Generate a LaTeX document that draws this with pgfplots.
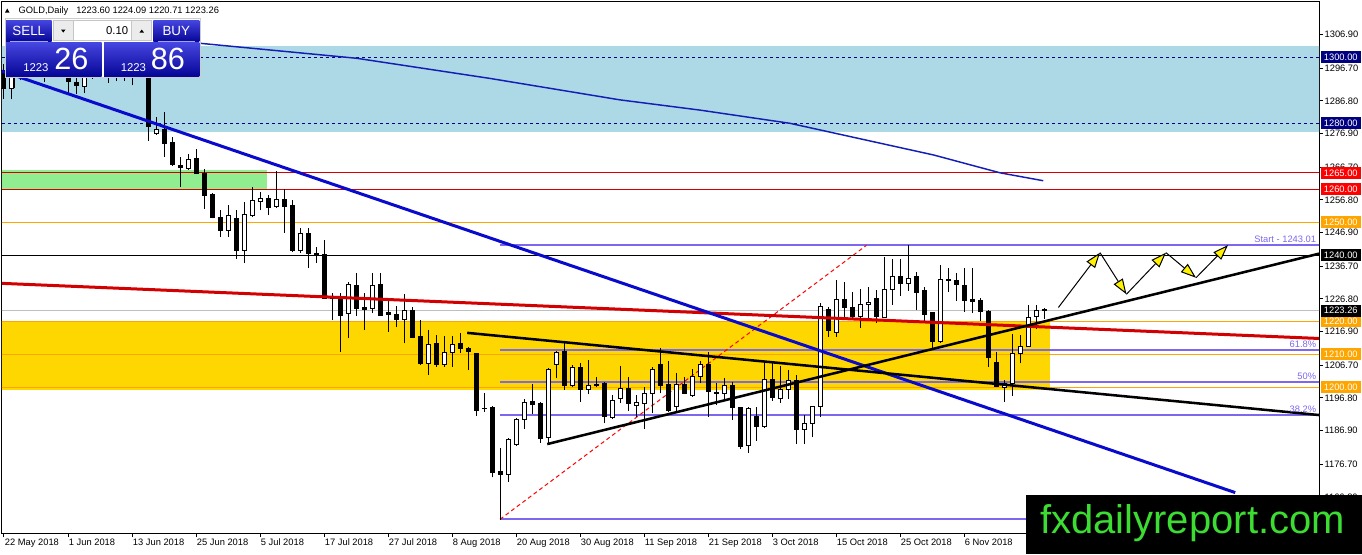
\documentclass[border=0pt]{standalone}
\usepackage{fontspec}
\setmainfont{Liberation Sans}
\usepackage{pgfplots}
\pgfplotsset{compat=1.18}
\usepackage{pgfplotstable}
\usetikzlibrary{arrows.meta}

\definecolor{zoneblue}{RGB}{173,216,230}
\definecolor{zonegreen}{RGB}{144,238,144}
\definecolor{zonegold}{RGB}{255,215,0}
\definecolor{fibline}{RGB}{123,104,238}
\definecolor{trendblue}{RGB}{10,10,205}
\definecolor{maline}{RGB}{20,30,180}
\definecolor{lvlred}{RGB}{210,0,0}
\definecolor{lvlorange}{RGB}{255,165,0}
\definecolor{lvlnavy}{RGB}{0,0,128}
\definecolor{btnhi}{RGB}{70,70,225}
\definecolor{btnlo}{RGB}{5,5,150}
\definecolor{wmgreen}{RGB}{60,220,50}

% bullish candles: bar index, open, high, low, close
\pgfplotstableread{
i o h l c
1 1290.6 1295 1287.3 1294
2 1294 1299 1293 1297.5
3 1297.5 1305 1295 1303
6 1297 1300 1294 1298.5
10 1291.3 1296 1289.3 1294
11 1294 1299 1293.5 1297.5
12 1297.5 1300 1295 1298.5
13 1298.5 1301 1292.3 1299
15 1296 1300 1292.8 1298.5
16 1298.5 1303 1291.6 1299.5
17 1299.5 1309 1294 1301
19 1277.0 1281.8 1276.5 1278.0
23 1266.2 1270.7 1265.8 1268.9
28 1247.5 1255.2 1245.6 1252.2
30 1241.4 1256.2 1237.6 1252.4
31 1252.0 1260.6 1251.5 1256.5
32 1256.2 1259.3 1253.7 1257.3
34 1254.7 1265.6 1254.2 1257.0
37 1241.4 1248.2 1240.8 1246.7
43 1222.4 1232.0 1215.0 1231.3
46 1223.9 1234.5 1222.4 1231.0
50 1220.7 1228.3 1213.3 1223.4
53 1207.3 1217.4 1203.7 1213.0
55 1207.0 1215.5 1206.2 1210.6
56 1210.6 1215.5 1206.2 1213.0
60 1193.6 1198.2 1192.6 1193.7
63 1173.6 1184.5 1171.4 1184.2
64 1182.8 1190.6 1182.3 1190.1
65 1190.1 1196.5 1187.3 1195.5
68 1184.8 1205.8 1182.8 1205.4
69 1207.0 1211.1 1202.7 1210.6
71 1200.7 1206.8 1200.2 1206.1
73 1199.4 1208.3 1197.9 1200.5
74 1200.4 1203.2 1200.2 1201.0
76 1190.8 1197.7 1190.3 1196.0
77 1196.5 1206.5 1195.1 1199.7
79 1194.5 1197.7 1191.1 1195.3
80 1195.1 1200.2 1187.3 1198.2
81 1198.2 1206.3 1192.1 1205.4
84 1194.3 1204.2 1192.6 1200.9
86 1197.5 1205.7 1197.2 1203.2
87 1203.4 1208.0 1201.2 1206.8
90 1198.2 1202.7 1196.2 1200.4
93 1182.5 1194.0 1180.2 1193.6
95 1188.1 1207.3 1187.6 1202.4
97 1196.7 1206.5 1195.3 1199.2
98 1199.2 1205.2 1196.4 1202.0
100 1187.3 1191.6 1182.8 1188.9
101 1189.1 1194.1 1184.8 1194.1
102 1194.1 1225.6 1190.9 1224.4
104 1216.6 1232.5 1215.3 1226.5
107 1221.6 1229.7 1218.1 1225.2
108 1225.2 1230.3 1220.4 1225.8
110 1221.2 1239.4 1220.9 1229.7
111 1229.7 1238.8 1225.0 1233.7
113 1231.5 1243.1 1229.3 1233.0
117 1213.8 1237.1 1213.5 1232.7
125 1200.0 1202.2 1195.7 1201.2
126 1201.2 1216.2 1197.4 1210.1
127 1210.3 1215.8 1207.3 1212.5
128 1212.5 1224.9 1212.3 1221.2
129 1221.6 1224.9 1217.6 1223.2
}\bull

% bearish candles
\pgfplotstableread{
i o h l c
0 1296 1298 1287.5 1290.6
4 1303 1306 1298 1301
5 1301 1302 1292.5 1297
7 1298.5 1301 1295 1297.5
8 1297.5 1298.5 1289 1292.6
9 1292.3 1294 1288.9 1291.6
14 1299 1302 1292.8 1296
18 1301 1303 1274.7 1279.0
20 1278.0 1283.5 1269.9 1273.9
21 1274.1 1275.8 1267.1 1267.4
22 1267.2 1269.7 1260.8 1266.5
24 1269.4 1272.1 1264.6 1264.8
25 1264.8 1266.1 1254.0 1258.1
26 1258.5 1258.8 1251.2 1251.4
27 1251.5 1253.7 1245.5 1247.5
29 1251.2 1253.7 1238.9 1241.4
33 1257.3 1258.3 1252.2 1254.5
35 1257.0 1260.0 1246.8 1254.9
36 1255.2 1256.8 1240.9 1241.4
38 1246.7 1248.2 1236.1 1240.4
39 1240.6 1242.6 1237.8 1240.0
40 1240.1 1244.6 1226.7 1227.0
41 1227.3 1228.5 1220.4 1227.0
42 1226.7 1228.5 1210.8 1221.9
44 1231.0 1234.5 1221.6 1223.9
45 1224.1 1228.5 1217.4 1223.7
47 1231.3 1234.5 1221.6 1221.9
48 1222.6 1226.5 1216.8 1222.2
49 1222.1 1224.6 1218.4 1220.7
51 1223.4 1224.4 1214.8 1215.2
52 1215.5 1220.4 1206.8 1207.1
54 1213.3 1215.8 1206.2 1206.8
57 1213.3 1216.5 1210.5 1211.8
58 1211.8 1212.3 1205.2 1210.8
59 1210.1 1210.5 1191.3 1192.9
61 1193.8 1194.3 1172.7 1174.1
62 1174.6 1181.5 1159.8 1173.6
66 1195.8 1200.9 1191.9 1194.8
67 1195.1 1195.6 1183.2 1184.5
70 1210.8 1213.8 1199.2 1200.7
72 1206.1 1207.3 1195.7 1199.4
75 1201.2 1201.7 1189.1 1191.1
78 1199.5 1203.0 1192.8 1195.1
82 1206.8 1211.8 1198.2 1200.7
83 1200.9 1208.0 1192.6 1192.9
85 1201.0 1203.0 1197.9 1198.0
88 1206.8 1210.8 1191.1 1198.7
89 1198.5 1201.2 1194.6 1198.2
91 1200.7 1201.7 1190.1 1193.9
92 1193.9 1194.1 1181.2 1182.0
94 1191.3 1194.1 1183.8 1188.1
96 1202.4 1207.3 1195.9 1197.0
99 1202.2 1203.7 1182.8 1187.3
103 1223.7 1224.4 1215.3 1217.2
105 1226.5 1232.0 1221.2 1224.2
106 1224.2 1229.0 1220.4 1221.6
109 1226.9 1229.5 1219.6 1221.6
112 1233.7 1238.8 1227.7 1231.5
114 1233.7 1235.0 1223.4 1228.7
115 1229.3 1230.3 1220.2 1222.2
116 1222.6 1222.9 1211.8 1213.8
118 1232.7 1236.1 1229.0 1232.3
119 1232.3 1234.7 1226.2 1231.3
120 1231.0 1236.1 1222.9 1226.3
121 1226.5 1236.1 1222.4 1226.0
122 1226.3 1227.0 1220.2 1222.9
123 1222.9 1223.4 1206.3 1209.1
124 1207.5 1210.8 1200.0 1200.2
130 1223.60 1224.09 1220.71 1223.26
}\bear

\begin{document}
\begin{tikzpicture}
\begin{axis}[
  at={(1.5pt,-399.75pt)}, anchor=south west,
  scale only axis, width=987.75pt, height=399pt,
  xmin=-0.25, xmax=164.375, ymin=1155.85, ymax=1317.06,
  clip mode=individual,
  axis line style={black, line width=0.75pt},
  tick style={black, line width=0.75pt},
  tick align=outside, major tick length=3pt,
  xtick pos=bottom, ytick pos=right, yticklabel pos=right,
  xtick={0,8,...,120},
  xticklabels={22 May 2018, 1 Jun 2018, 13 Jun 2018, 25 Jun 2018, 5 Jul 2018, 17 Jul 2018, 27 Jul 2018, 8 Aug 2018, 20 Aug 2018, 30 Aug 2018, 11 Sep 2018, 21 Sep 2018, 3 Oct 2018, 15 Oct 2018, 25 Oct 2018, 6 Nov 2018},
  ytick={1306.9,1296.7,1286.8,1276.9,1266.7,1256.8,1246.9,1236.7,1226.8,1216.9,1206.7,1196.8,1186.9,1176.7,1166.8},
  yticklabels={1306.90,1296.70,1286.80,1276.90,1266.70,1256.80,1246.90,1236.70,1226.80,1216.90,1206.70,1196.80,1186.90,1176.70,1166.80},
  ticklabel style={font=\fontsize{7}{8}\selectfont, inner sep=1pt},
  xticklabel style={anchor=north west, xshift=-0.5pt},
  yticklabel style={anchor=west},
  candle end/.style={only marks, mark=-, mark size=1.875pt, mark options={black, line width=0.75pt}},
  candle bar/.style={draw=none, mark=none, error bars/.cd, y dir=plus, y explicit, error mark=none,
    error bar style={draw=#1}},
]
% zones
\addplot[draw=none, fill=zoneblue] coordinates {(-1,1277.5) (166,1277.5) (166,1303.4) (-1,1303.4)};
\addplot[draw=none, fill=zonegreen] coordinates {(-1,1260) (32.9,1260) (32.9,1265.8) (-1,1265.8)};
\addplot[draw=none, fill=zonegold] coordinates {(-1,1199.2) (130.8,1199.2) (130.8,1220.1) (-1,1220.1)};

% horizontal levels
\addplot[lvlnavy, line width=0.75pt, dash pattern=on 2.25pt off 2.25pt] coordinates {(-1,1300) (166,1300)};
\addplot[lvlnavy, line width=0.75pt, dash pattern=on 2.25pt off 2.25pt] coordinates {(-1,1280) (166,1280)};
\addplot[lvlred, line width=0.75pt] coordinates {(-1,1265) (166,1265)};
\addplot[lvlred, line width=0.75pt] coordinates {(-1,1260) (166,1260)};
\addplot[lvlorange, line width=0.75pt] coordinates {(-1,1250) (166,1250)};
\addplot[black, line width=0.75pt] coordinates {(-1,1240) (166,1240)};
\addplot[gray!50, line width=0.75pt] coordinates {(-1,1223.26) (166,1223.26)};
\addplot[lvlorange, line width=0.75pt] coordinates {(-1,1220) (166,1220)};
\addplot[lvlorange, line width=0.75pt] coordinates {(-1,1210) (166,1210)};
\addplot[lvlorange, line width=0.75pt] coordinates {(-1,1200) (166,1200)};

% fibonacci levels
\addplot[fibline, line width=1.5pt] coordinates {(62,1243.01) (166,1243.01)};
\addplot[fibline, line width=1.5pt] coordinates {(62,1211.3) (166,1211.3)};
\addplot[fibline, line width=1.5pt] coordinates {(62,1201.5) (166,1201.5)};
\addplot[fibline, line width=1.5pt] coordinates {(62,1191.7) (166,1191.7)};
\addplot[fibline, line width=1.5pt] coordinates {(62,1160) (166,1160)};
\addplot[red, line width=0.75pt, dash pattern=on 3pt off 2.25pt] coordinates {(62,1160) (107.8,1243.01)};

% candle wicks
\addplot[candle bar=black, error bar style={line width=0.75pt}]
  table[x=i, y=l, y error plus expr=\thisrow{h}-\thisrow{l}] {\bull};
\addplot[candle bar=black, error bar style={line width=0.75pt}]
  table[x=i, y=l, y error plus expr=\thisrow{h}-\thisrow{l}] {\bear};
% bearish bodies
\addplot[candle bar=black, error bar style={line width=3.75pt}]
  table[x=i, y=c, y error plus expr=\thisrow{o}-\thisrow{c}] {\bear};
\addplot[candle end] table[x=i, y=o] {\bear};
\addplot[candle end] table[x=i, y=c] {\bear};
% bullish bodies: black outline, white inside, then top and bottom edges
\addplot[candle bar=black, error bar style={line width=3.75pt}]
  table[x=i, y=o, y error plus expr=\thisrow{c}-\thisrow{o}] {\bull};
\addplot[candle bar=white, error bar style={line width=2.25pt}]
  table[x=i, y=o, y error plus expr=\thisrow{c}-\thisrow{o}] {\bull};
\addplot[candle end] table[x=i, y=o] {\bull};
\addplot[candle end] table[x=i, y=c] {\bull};

% moving average
\addplot[maline, line width=1.1pt] coordinates {
  (20,1305.3) (24.7,1304.2) (44.1,1299.7) (60.75,1293.6) (77,1287.1) (87,1284.0)
  (98.25,1280.0) (116.2,1270.4) (124.5,1265.0) (129.9,1262.6)};

% trend lines
\addplot[lvlred, line width=2.25pt] coordinates {(-0.25,1231.5) (164.375,1214.8)};
\addplot[trendblue, line width=2.25pt] coordinates {(-0.25,1295.8) (153.9,1168.1)};
\addplot[black, line width=1.9pt] coordinates {(57.9,1216.5) (164.375,1191.6)};
\addplot[black, line width=1.9pt] coordinates {(67.9,1182.8) (164.375,1240.5)};

% projected path
\pgfplotsset{every arrowpath/.style={black, line width=0.75pt, -{Triangle[length=11.5pt, width=8pt, fill=yellow]}}}
\addplot[every arrowpath] coordinates {(131.8,1224.2) (137.0,1240.8)};
\addplot[every arrowpath] coordinates {(137.0,1240.8) (140.3,1228.2)};
\addplot[every arrowpath] coordinates {(140.3,1228.2) (145.25,1240.8)};
\addplot[every arrowpath] coordinates {(145.25,1240.8) (149.0,1233.2)};
\addplot[every arrowpath] coordinates {(149.0,1233.2) (153.0,1243.1)};
\end{axis}

\begin{scope}[x=0.75pt, y=-0.75pt]
  % price tags on the right scale
  \foreach \yy/\col/\txt in {57.3/lvlnavy/1300.00, 123.3/lvlnavy/1280.00, 172.8/red/1265.00,
      189.3/red/1260.00, 222.3/lvlorange/1250.00, 255.3/black/1240.00, 321.3/lvlorange/1220.00,
      310.5/black/1223.26, 354.3/lvlorange/1210.00, 387.3/lvlorange/1200.00} {
    \node[anchor=west, fill=\col, text=white, inner sep=0pt, minimum width=30pt,
      minimum height=9pt, font=\fontsize{7}{8}\selectfont] at (1320.5,\yy) {\txt};
  }
  % fibonacci captions
  \begin{scope}[every node/.style={anchor=south east, text=fibline, inner sep=0.5pt,
      font=\fontsize{7}{8}\selectfont}]
    \node at (1317,244) {Start - 1243.01};
    \node at (1317,349) {61.8\%};
    \node at (1317,381) {50\%};
    \node at (1317,413.5) {38.2\%};
  \end{scope}

  % header
  \fill[black] (5,12.5) -- (9.5,12.5) -- (7.25,8.5) -- cycle;
  \node[anchor=base west, inner sep=0pt, font=\fontsize{7}{8}\selectfont] at (18.3,13.5) {GOLD,Daily};
  \node[anchor=base west, inner sep=0pt, font=\fontsize{7}{8}\selectfont] at (76,13.5) {1223.60 1224.09 1220.71 1223.26};

  % one-click trading panel
  \fill[white] (5,18) rectangle (200,77.5);
  \draw[gray!40, line width=0.75pt] (5,18) rectangle (200,77.5);
  \shade[top color=btnhi, bottom color=btnlo] (6,20) rectangle (51.7,41.7);
  \shade[top color=btnhi, bottom color=btnlo] (153.3,20) rectangle (199.3,41.7);
  \shade[top color=btnhi, bottom color=btnlo] (6,42.3) rectangle (101.7,76.3);
  \shade[top color=btnhi, bottom color=btnlo] (104,42.3) rectangle (199.3,76.3);
  \draw[btnhi!50!white, line width=0.75pt] (10,41.5) -- (47.5,41.5);
  \draw[btnhi!50!white, line width=0.75pt] (157.5,41.5) -- (195,41.5);
  \fill[gray!15] (53.3,20.7) rectangle (73.3,40.7);
  \fill[gray!15] (131.7,20.7) rectangle (151.7,40.7);
  \draw[gray!45, line width=0.75pt] (53.3,20.7) rectangle (151.7,40.7);
  \draw[gray!45, line width=0.75pt] (73.3,20.7) -- (73.3,40.7) (131.7,20.7) -- (131.7,40.7);
  \fill[black] (61,29.5) -- (65.5,29.5) -- (63.25,32.5) -- cycle;
  \fill[black] (139.5,32.5) -- (144,32.5) -- (141.75,29.5) -- cycle;
  \node[anchor=base east, inner sep=0pt, font=\fontsize{8.5}{9}\selectfont] at (128.5,34.5) {0.10};
  \node[text=white, inner sep=0pt, font=\fontsize{10}{11}\selectfont] at (28.8,31) {SELL};
  \node[text=white, inner sep=0pt, font=\fontsize{10}{11}\selectfont] at (176.3,31) {BUY};
  \node[anchor=base west, text=white, inner sep=0pt, font=\fontsize{8.5}{9}\selectfont] at (23,71) {1223};
  \node[anchor=base west, text=white, inner sep=0pt, font=\fontsize{23}{24}\selectfont] at (54,69) {26};
  \node[anchor=base west, text=white, inner sep=0pt, font=\fontsize{8.5}{9}\selectfont] at (120.5,71) {1223};
  \node[anchor=base west, text=white, inner sep=0pt, font=\fontsize{23}{24}\selectfont] at (150.5,69) {86};

  % watermark
  \fill[black] (1026,495) rectangle (1362,554);
  \node[anchor=base west, inner sep=0pt, text=wmgreen, font=\fontsize{30}{30}\selectfont] at (1040,533.3) {fxdailyreport.com};

  \pgfresetboundingbox
  \path[use as bounding box] (0,0) rectangle (1362,554);
\end{scope}
\end{tikzpicture}
\end{document}
